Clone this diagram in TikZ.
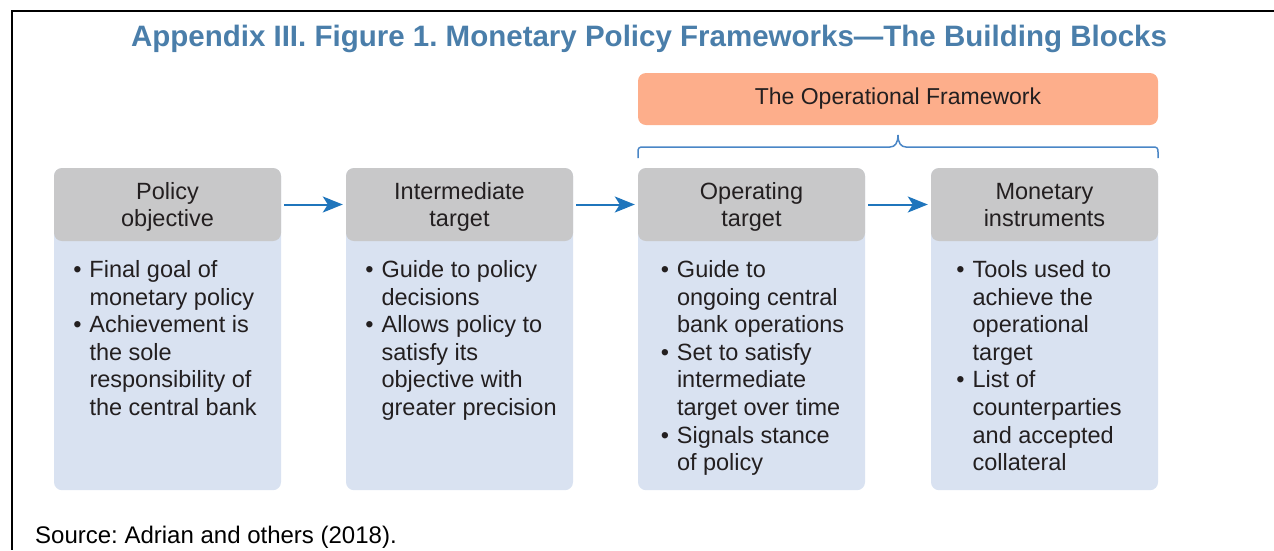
\documentclass[tikz,border=0pt]{standalone}
\usepackage{fontspec}
\setmainfont{Liberation Sans}
\usepackage{xcolor}
\usetikzlibrary{arrows.meta}
\usetikzlibrary{positioning}
\definecolor{titleblue}{HTML}{4A7EAA}
\definecolor{headgray}{HTML}{C8C8C9}
\definecolor{bodyblue}{HTML}{D9E2F1}
\definecolor{frameorange}{HTML}{FDAE8B}
\definecolor{arrowblue}{HTML}{1F75BC}
\definecolor{braceblue}{HTML}{4A86C6}
\definecolor{textdark}{HTML}{231F20}
\frenchspacing

\begin{document}
\begin{tikzpicture}[x=1pt, y=-1pt, text=textdark,
		font=\fontsize{23.5}{27.6}\selectfont,
		head/.style={fill=headgray, rounded corners=8pt, minimum width=227pt, minimum height=73pt, inner sep=0pt},
		headtxt/.style={anchor=base, text width=227pt, align=center, inner sep=0pt},
		body/.style={fill=bodyblue, rounded corners=8pt, minimum width=227pt, minimum height=322pt, inner sep=0pt, anchor=north},
		list/.style={anchor=north, inner sep=0pt},
		flow/.style={-{Stealth[length=20pt, width=16pt, inset=5pt]}, arrowblue, line width=2pt}]
	\useasboundingbox (0,0) rectangle (1274,550);
	% frame
	\draw[line width=2pt] (1274,11) -- (12,11) -- (12,550);
	\node[anchor=base, font=\fontsize{29.5}{34}\selectfont\bfseries, text=titleblue] (title) at (649,46)
		{Appendix III. Figure 1. Monetary Policy Frameworks—The Building Blocks};
	% the four blocks
	\foreach \x/\name/\txt in {167.5/obj/{Policy\\objective}, 459.5/itm/{Intermediate\\target}, 751.5/opt/{Operating\\target}, 1044.5/ins/{Monetary\\instruments}}
	{
		\node[body] (\name B) at (\x,168) {};
		\node[head] (\name) at (\x,204.5) {};
		\node[headtxt] (\name T) at (\x,199) {\txt};
	}
	\node[list] (objL) at (165,258) {\begin{tabular}{@{}l@{\hspace{8pt}}l@{}}
		\textbullet & Final goal of\\ & monetary policy\\
		\textbullet & Achievement is\\ & the sole\\ & responsibility of\\ & the central bank
	\end{tabular}};
	\node[list] (itmL) at (461,258) {\begin{tabular}{@{}l@{\hspace{8pt}}l@{}}
		\textbullet & Guide to policy\\ & decisions\\
		\textbullet & Allows policy to\\ & satisfy its\\ & objective with\\ & greater precision
	\end{tabular}};
	\node[list] (optL) at (752.5,258) {\begin{tabular}{@{}l@{\hspace{8pt}}l@{}}
		\textbullet & Guide to\\ & ongoing central\\ & bank operations\\
		\textbullet & Set to satisfy\\ & intermediate\\ & target over time\\
		\textbullet & Signals stance\\ & of policy
	\end{tabular}};
	\node[list] (insL) at (1039,258) {\begin{tabular}{@{}l@{\hspace{8pt}}l@{}}
		\textbullet & Tools used to\\ & achieve the\\ & operational\\ & target\\
		\textbullet & List of\\ & counterparties\\ & and accepted\\ & collateral
	\end{tabular}};
	\foreach \a/\b in {obj/itm, itm/opt, opt/ins}
	{
		\draw[flow] ([xshift=3pt]\a.east) -- ([xshift=-3pt]\b.west);
	}
	% operational framework and its brace
	\node[fill=frameorange, rounded corners=8pt, minimum width=520pt, minimum height=52pt, inner sep=0pt, font=\fontsize{23}{27}\selectfont] (opfw) at (898,99) {The Operational Framework};
	\draw[braceblue, line width=1.5pt] (638,158) -- (638,152) .. controls (638,148) and (639,147) .. (643,147) -- (890,147)
		.. controls (895,147) and (898,143) .. (898,135) .. controls (898,143) and (901,147) .. (906,147) -- (1153,147)
		.. controls (1157,147) and (1158,148) .. (1158,152) -- (1158,158);
	\node[anchor=base west, inner sep=0pt, text=black, font=\fontsize{24}{28}\selectfont] (src) at (35,543) {Source: Adrian and others (2018).};
\end{tikzpicture}
\end{document}
